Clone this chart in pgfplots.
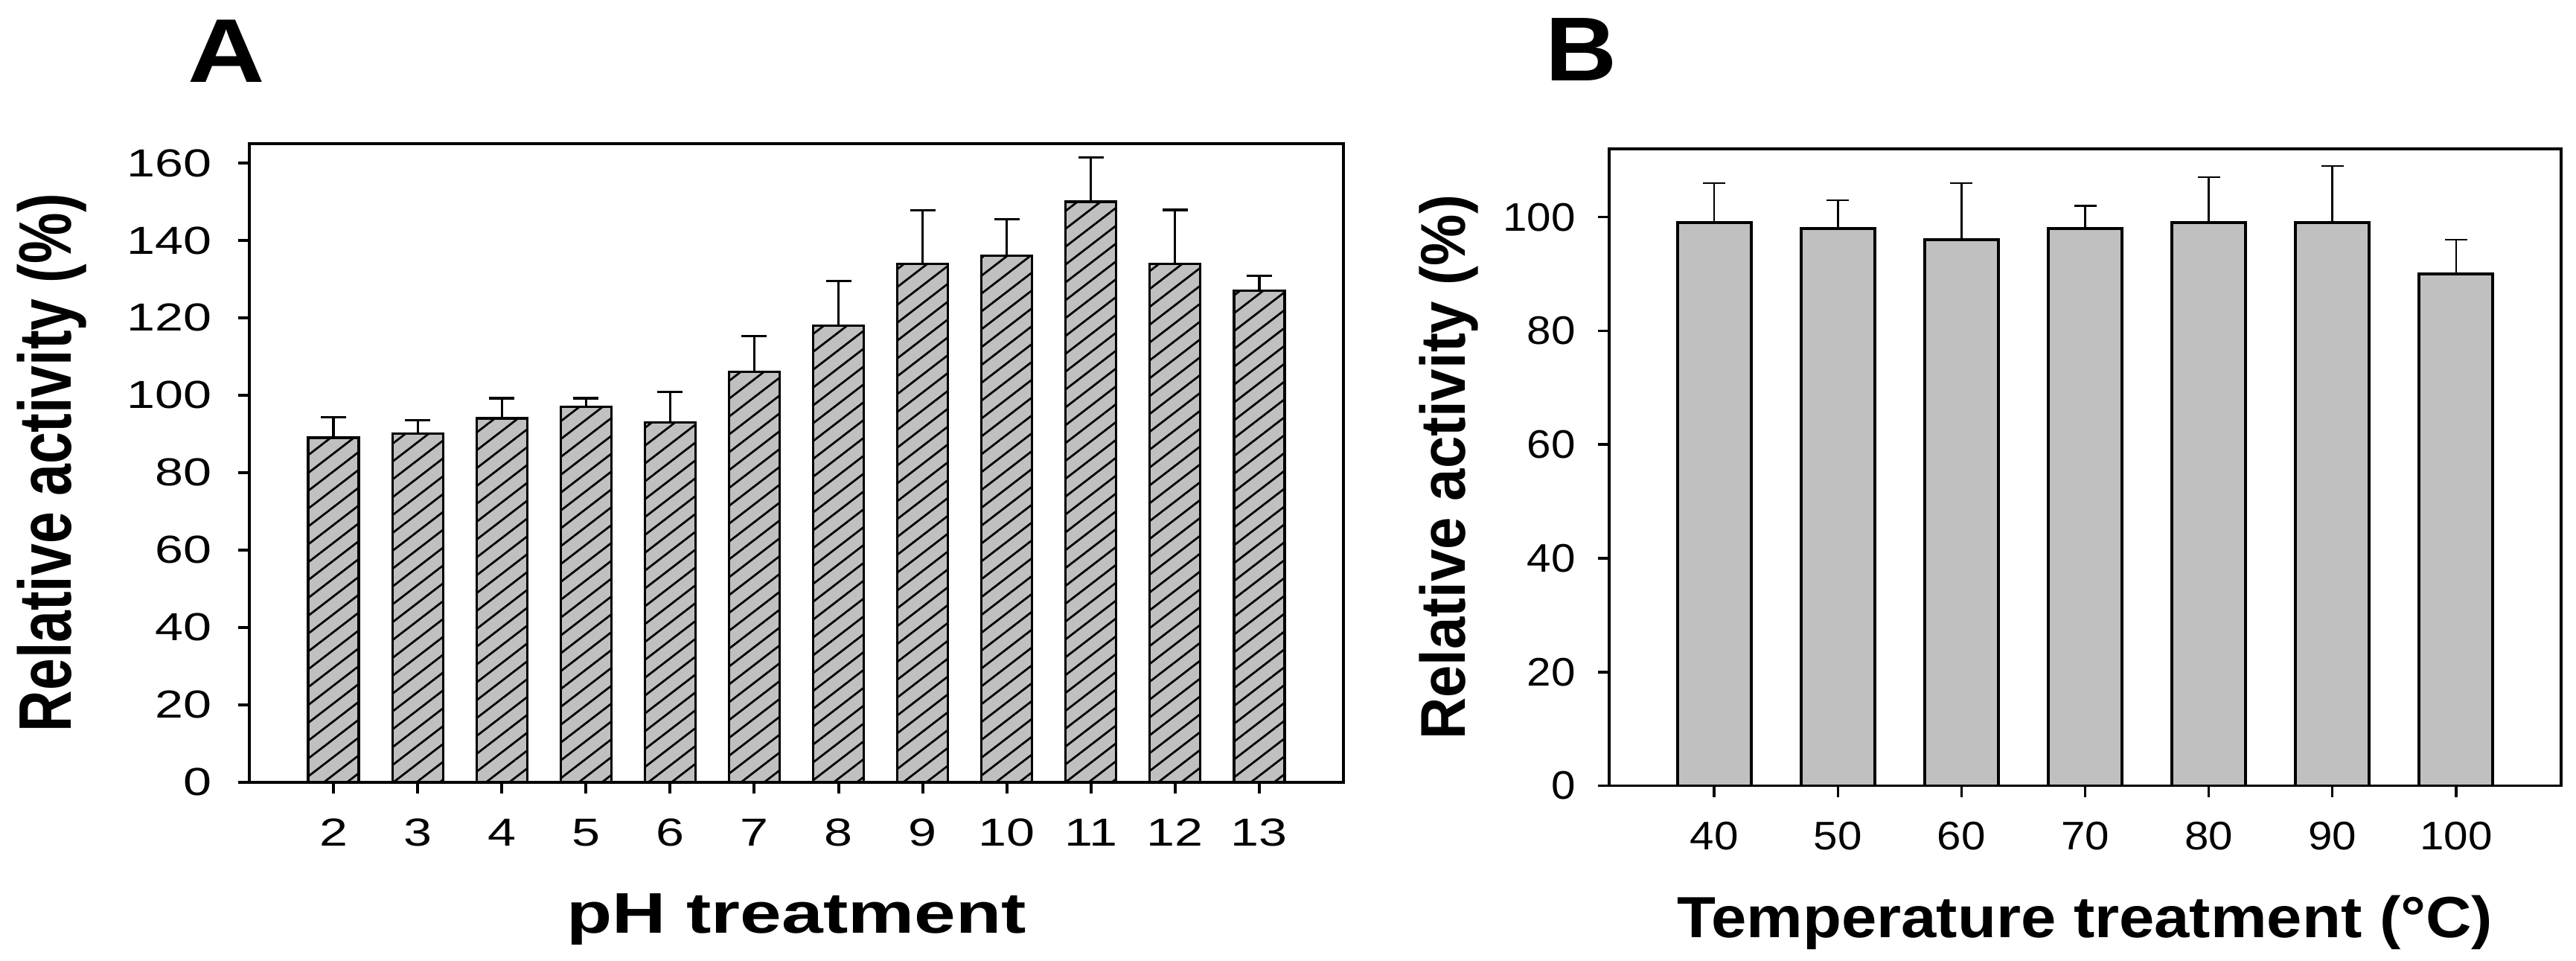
\documentclass[border=0pt]{standalone}
\usepackage{pgfplots}
\pgfplotsset{compat=1.18}
\usepackage{pgfplotstable}
\usepackage{fontspec}
\setmainfont{Liberation Sans}
\usetikzlibrary{patterns.meta}
\newfontfamily\Atick[FakeStretch=1.3]{Liberation Sans}
\newfontfamily\Aylab[FakeStretch=0.77]{Liberation Sans}
\newfontfamily\Aletter[FakeStretch=1.18]{Liberation Sans}
\newfontfamily\Bfont[FakeStretch=1.09]{Liberation Sans}
\newfontfamily\Bylab[FakeStretch=0.917]{Liberation Sans}
\definecolor{barg}{RGB}{192,192,192}

\pgfplotstableread{
x y e
2 89 5.3
3 90 3.5
4 94 5.2
5 97 2.2
6 93 7.8
7 106 9.2
8 118 11.5
9 134 13.8
10 136 9.5
11 150 11.5
12 134 13.9
13 127 3.8
}\dataA

\pgfplotstableread{
x y e
40 99 7
50 98 5
60 96 10
70 98 4
80 99 8
90 99 10
100 90 6
}\dataB

\begin{document}
\begin{tikzpicture}
\useasboundingbox (0,0) rectangle (692.2pt,258pt);
\begin{axis}[
  at={(67pt,47.9pt)}, anchor=south west, scale only axis,
  width=294pt, height=171.5pt,
  xmin=1, xmax=14, ymin=0, ymax=165,
  xtick={2,3,...,13}, ytick={0,20,...,160},
  tick align=outside, xtick pos=lower, ytick pos=left,
  major tick length=3pt,
  axis line style={line width=0.8pt},
  every tick/.style={black, line width=0.8pt},
  /pgf/number format/assume math mode=true,
  tick label style={font=\fontsize{10.5}{12}\Atick, inner sep=0pt},
  xticklabel shift=6.7pt, yticklabel shift=7pt,
  xlabel={pH treatment},
  xlabel style={at={(axis description cs:0.5,-0.2362)}, anchor=base, inner sep=0pt, font=\fontsize{15.4}{18}\Atick\bfseries},
  ylabel={Relative activity (\%)},
  ylabel style={at={(axis description cs:-0.1483,0.5)}, anchor=south, inner sep=0pt, font=\fontsize{20}{24}\Aylab\bfseries},
]
\addplot[ybar, bar width=13.6pt, draw=black, line width=0.65pt,
  preaction={fill=barg},
  pattern={Lines[angle=37.6,distance=3.8pt,line width=0.55pt]},
  error bars/.cd, y dir=plus, y explicit,
  error bar style={line width=0.65pt, black},
  error mark options={rotate=90, mark size=3.4pt, line width=0.65pt, black}]
  table[x=x, y=y, y error=e]{\dataA};
\end{axis}

\begin{axis}[
  at={(432.4pt,46.9pt)}, anchor=south west, scale only axis,
  width=255.8pt, height=171.1pt,
  xmin=31.5, xmax=108.5, ymin=0, ymax=112,
  xtick={40,50,...,100}, ytick={0,20,...,100},
  tick align=outside, xtick pos=lower, ytick pos=left,
  major tick length=3pt,
  axis line style={line width=0.7pt},
  every tick/.style={black, line width=0.7pt},
  /pgf/number format/assume math mode=true,
  tick label style={font=\fontsize{10.7}{12}\Bfont, inner sep=0pt},
  xticklabel shift=6.5pt, yticklabel shift=5.9pt,
  xlabel={Temperature treatment (°C)},
  xlabel style={at={(axis description cs:0.5,-0.2379)}, anchor=base, inner sep=0pt, font=\fontsize{15.6}{18}\Bfont\bfseries},
  ylabel={Relative activity (\%)},
  ylabel style={at={(axis description cs:-0.1364,0.5)}, anchor=south, inner sep=0pt, font=\fontsize{17}{20}\Bylab\bfseries},
]
\addplot[ybar, bar width=19.8pt, draw=black, line width=0.75pt, fill=barg,
  error bars/.cd, y dir=plus, y explicit,
  error bar style={line width=0.5pt, black},
  error mark options={rotate=90, mark size=3pt, line width=0.5pt, black}]
  table[x=x, y=y, y error=e]{\dataB};
\end{axis}

\node[anchor=base, inner sep=0pt, font=\fontsize{24.3}{29}\Aletter\bfseries] at (60.9pt,236pt) {A};
\node[anchor=base, inner sep=0pt, font=\fontsize{24.4}{29}\Bfont\bfseries] at (424.8pt,236.4pt) {B};
\end{tikzpicture}
\end{document}
